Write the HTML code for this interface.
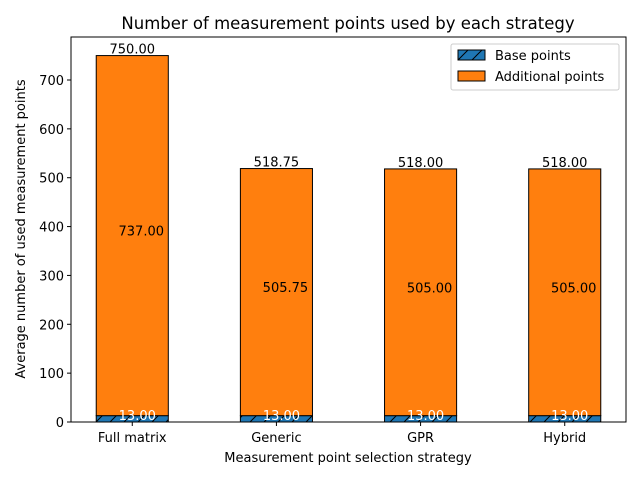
<!DOCTYPE html>
<html><head><meta charset="utf-8"><style>
body{margin:0;background:#fff}
svg{font-family:"DejaVu Sans","Liberation Sans",sans-serif;display:block}
</style></head><body>
<svg id="c" width="640" height="480" xmlns="http://www.w3.org/2000/svg">
<defs><pattern id="h" patternUnits="userSpaceOnUse" width="14" height="14"><rect width="14" height="14" fill="#1f77b4"/><path d="M-2,16 L16,-2 M-9,9 L9,-9 M5,23 L23,5" stroke="#000" stroke-width="1"/></pattern></defs>
</svg>
<script>
const categories=["Full matrix","Generic","GPR","Hybrid"];
const baseVals=[13,13,13,13];
const addVals=[737,505.75,505,505];
const yTicks=[0,100,200,300,400,500,600,700];
const svg=document.getElementById('c');
const NS="http://www.w3.org/2000/svg";
const L=71,R=626,T=37,B=422;
const xs=i=>L+(i+0.425)*((R-L)/3.85);
const ys=v=>B-v*(342/700);
function el(t,a,txt){const e=document.createElementNS(NS,t);for(const k in a)e.setAttribute(k,a[k]);if(txt!=null)e.textContent=txt;svg.appendChild(e);return e;}
const bw=0.5*((R-L)/3.85);
categories.forEach((c,i)=>{
 const x=xs(i),b=baseVals[i],a=addVals[i];
 let e=el('rect',{x:x-bw/2,y:ys(b),width:bw,height:ys(0)-ys(b),fill:'url(#h)',stroke:'#000','stroke-width':1});
 
 
 e=el('rect',{x:x-bw/2,y:ys(b+a),width:bw,height:ys(b)-ys(b+a),fill:'#ff7f0e',stroke:'#000','stroke-width':1});
 
 
 e=el('text',{x:x+5,y:ys(b/2)+1,'font-size':13,fill:'#fff','text-anchor':'middle'},b.toFixed(2));
 
 
 e=el('text',{x:x+9,y:ys(b+a/2),'font-size':13,'text-anchor':'middle'},a.toFixed(2));
 
 
 e=el('text',{x:x,y:ys(a+b)-2,'font-size':13,'text-anchor':'middle'},(a+b).toFixed(2));
 
 
 el('line',{x1:x,x2:x,y1:B,y2:B+4,stroke:'#000'});
 e=el('text',{x:x,y:B+20,'font-size':13,'text-anchor':'middle'},c);
 
 
});
yTicks.forEach(v=>{
 el('line',{x1:L-4,x2:L,y1:ys(v),y2:ys(v),stroke:'#000'});
 const e=el('text',{x:L-7,y:ys(v)+5,'font-size':13,'text-anchor':'end'},v);
 
 
});
el('rect',{x:L,y:T,width:R-L,height:B-T,fill:'none',stroke:'#000','stroke-width':1});
</script>
<svg style="position:absolute;left:0;top:0" width="640" height="480" xmlns="http://www.w3.org/2000/svg">
<text x="348" y="29" font-size="16.5" text-anchor="middle" font-family="DejaVu Sans,sans-serif">Number of measurement points used by each strategy</text>
<text x="348" y="462" font-size="13" text-anchor="middle" font-family="DejaVu Sans,sans-serif">Measurement point selection strategy</text>
<text transform="translate(25,229) rotate(-90)" font-size="13" text-anchor="middle" font-family="DejaVu Sans,sans-serif">Average number of used measurement points</text>
<g font-family="DejaVu Sans,sans-serif" font-size="13">
<rect x="451" y="44" width="168" height="46" rx="2" fill="#fff" fill-opacity="0.8" stroke="#ccc"/>
<rect x="458" y="50" width="27" height="10" fill="url(#h)" stroke="#000"/>
<text x="495" y="60">Base points</text>
<rect x="458" y="71" width="27" height="10" fill="#ff7f0e" stroke="#000"/>
<text x="495" y="81">Additional points</text>
</g>
</svg>
</body></html>
